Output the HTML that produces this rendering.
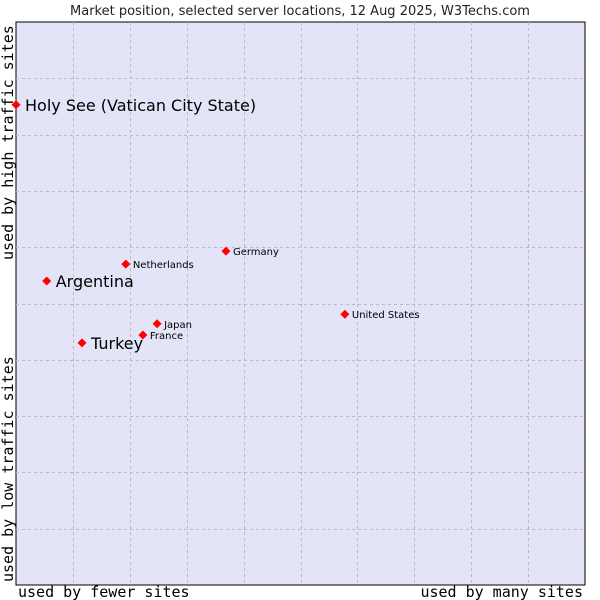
<!DOCTYPE html>
<html><head><meta charset="utf-8"><style>
body{margin:0;background:#fff;}
svg{display:block;}
</style></head><body>
<svg id="c" width="600" height="600">
<text x="300" y="15" text-anchor="middle" font-family="DejaVu Sans, sans-serif" font-size="13" fill="#222">Market position, selected server locations, 12 Aug 2025, W3Techs.com</text>
<rect x="16" y="22" width="569" height="563" fill="#e3e4f7" stroke="#000" stroke-width="1"/>
<g id="grid"></g>
<g id="pts"></g>
<text x="18" y="597" font-family="DejaVu Sans Mono, monospace" font-size="15" fill="#000">used by fewer sites</text>
<text x="583" y="597" text-anchor="end" font-family="DejaVu Sans Mono, monospace" font-size="15" fill="#000">used by many sites</text>
<text transform="translate(13,260) rotate(-90)" font-family="DejaVu Sans Mono, monospace" font-size="15" fill="#000">used by high traffic sites</text>
<text transform="translate(13,582) rotate(-90)" font-family="DejaVu Sans Mono, monospace" font-size="15" fill="#000">used by low traffic sites</text>
</svg>
<script>
const names=["Holy See (Vatican City State)","Argentina","Turkey","Netherlands","Germany","Japan","France","United States"];
const xVals=[0,5.4,11.6,19.3,36.9,24.8,22.3,57.8];
const yVals=[85.3,54.0,43.0,57.0,59.3,46.4,44.4,48.1];
const large=[true,true,true,false,false,false,false,false];
const L=16,T=22,W=569,H=563;
const sx=v=>L+v/100*W, sy=v=>T+H-v/100*H;
const NS="http://www.w3.org/2000/svg";
const g=document.getElementById('grid');
for(let i=1;i<10;i++){
 const a=document.createElementNS(NS,'line');
 a.setAttribute('x1',Math.round(sx(i*10))+.5);a.setAttribute('x2',Math.round(sx(i*10))+.5);
 a.setAttribute('y1',T);a.setAttribute('y2',T+H);
 a.setAttribute('stroke','#bbb');a.setAttribute('stroke-dasharray','3,3');
 
 
 g.appendChild(a);
 const b=document.createElementNS(NS,'line');
 b.setAttribute('y1',Math.round(sy(i*10))+.5);b.setAttribute('y2',Math.round(sy(i*10))+.5);
 b.setAttribute('x1',L);b.setAttribute('x2',L+W);
 b.setAttribute('stroke','#bbb');b.setAttribute('stroke-dasharray','3,3');
 
 
 g.appendChild(b);
}
const p=document.getElementById('pts');
names.forEach((n,i)=>{
 const x=sx(xVals[i]),y=sy(yVals[i]);
 const d=document.createElementNS(NS,'polygon');
 d.setAttribute('points',`${x},${y-4.5} ${x+4.5},${y} ${x},${y+4.5} ${x-4.5},${y}`);
 d.setAttribute('fill','#f00');
 
 
 p.appendChild(d);
 const t=document.createElementNS(NS,'text');
 t.setAttribute('x',x+(large[i]?9:7));
 t.setAttribute('y',y+(large[i]?6:4));
 t.setAttribute('font-family','DejaVu Sans, sans-serif');
 t.setAttribute('font-size',large[i]?'16':'10');
 t.setAttribute('fill','#000');
 t.textContent=n;
 
 
 p.appendChild(t);
});
</script>
</body></html>
